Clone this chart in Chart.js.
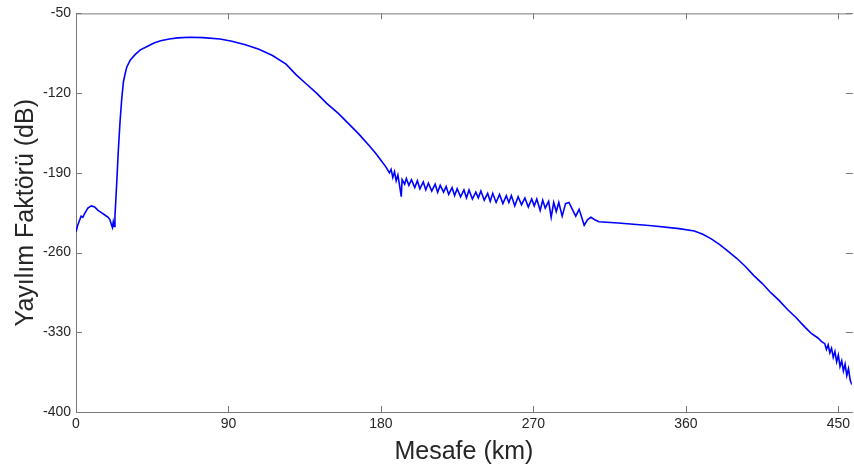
<!DOCTYPE html>
<html>
<head>
<meta charset="utf-8">
<script src="https://cdn.jsdelivr.net/npm/chart.js@4"></script>
<style>
  html, body { margin: 0; padding: 0; background: #fff; }
  #wrap { width: 854px; height: 470px; }
</style>
</head>
<body>
<div id="wrap"><canvas id="spreadChart" width="854" height="470"></canvas></div>
<script>
// distance (km) and spread factor (dB)
const distanceKm = [
  0, 1, 2, 3, 4, 5, 7, 9, 11, 13, 15, 17, 19, 20, 21, 21.5, 22, 22.5, 23, 24, 25, 26, 27, 28, 29, 30,
  32, 35, 38, 42, 46, 50, 55, 60, 67, 75, 85, 92, 100, 108, 116, 124, 130, 136, 142, 148, 155, 161,
  167, 173, 177, 180, 183, 185, 186, 187, 188, 189, 190, 191, 192, 192.5, 194, 195, 196.5, 198, 200,
  201.5, 203, 205, 206.5, 208, 210, 212, 213.5, 215, 217, 218.5, 220, 222, 223.5, 225, 227, 229,
  230.5, 232, 234, 236, 237.5, 239, 241, 243, 244.5, 246, 248, 250, 252, 254, 255.5, 257, 259, 261,
  263, 265, 267, 269, 270.5, 272, 274, 275.5, 277, 279, 280.5, 282, 283.5, 285, 287, 289, 291, 293,
  295, 297, 300, 302, 304, 306, 308.6, 320, 340, 356, 365, 370, 375, 380, 385, 390, 395, 400, 405,
  410, 415, 420, 425, 430, 434, 438, 440, 442, 443, 444, 445, 446, 447, 448, 449, 450, 451, 452,
  453, 454, 455, 456, 457, 458
];
const spreadDb = [
  -242, -236, -232, -228, -229, -226, -221, -219, -220, -223, -225, -227, -229, -231, -236, -238, -233, -237, -228, -200, -170, -145, -125, -110, -103, -97,
  -91, -86, -82, -79, -76, -74, -72.5, -71.5, -71, -71.3, -72.5, -74.5, -77.5, -81.5, -87, -94.6, -104, -112, -120, -129, -138, -147,
  -156, -166, -173, -179, -185, -190, -187, -194, -189, -197, -192, -201, -211, -196, -200, -195, -201, -196, -203,
  -197, -204, -198, -205, -199, -206, -200, -207, -201, -207, -202, -209, -203, -210, -204, -211, -205,
  -212, -205, -213, -207, -212, -206, -214, -208, -215, -208, -216, -209, -217, -210, -216, -210, -219, -211,
  -218, -212, -220, -213, -219, -213, -223, -214, -221, -215, -229, -216, -224, -216, -228, -217, -216, -222,
  -228, -222, -236, -231, -229, -231, -233, -234, -236.5, -239, -241, -244, -248, -253, -259, -265, -272, -280, -287,
  -295, -302, -310, -317, -325, -331, -335, -338, -340, -345, -341, -348, -344, -352, -347, -356, -350, -360, -355,
  -364, -358, -368, -362, -372, -376
];
const xTicks = [0, 90, 180, 270, 360, 450];
const yTicks = [-50, -120, -190, -260, -330, -400];

const axisGray = "#7a7a7a";
const textDark = "#262626";

// MATLAB-like box with inward ticks (right edge falls off the picture)
const boxPlugin = {
  id: "boxTicks",
  afterDraw(chart){
    const {ctx, chartArea, scales} = chart;
    const a = chartArea;
    ctx.save();
    ctx.strokeStyle = axisGray;
    ctx.lineWidth = 1;
    ctx.beginPath();
    ctx.moveTo(a.left, a.top + 0.5);
    ctx.lineTo(a.right, a.top + 0.5);
    xTicks.forEach(v => {
      const px = Math.round(scales.x.getPixelForValue(v)) + 0.5;
      ctx.moveTo(px, a.bottom); ctx.lineTo(px, a.bottom - 6);
      ctx.moveTo(px, a.top); ctx.lineTo(px, a.top + 6);
    });
    yTicks.forEach(v => {
      const py = Math.round(scales.y.getPixelForValue(v)) + 0.5;
      ctx.moveTo(a.left, py); ctx.lineTo(a.left + 6, py);
      ctx.moveTo(a.right + 1, py); ctx.lineTo(a.right - 6, py);
    });
    ctx.stroke();
    ctx.restore();
  }
};

const points = distanceKm.map((d, i) => ({x: d, y: spreadDb[i]}));

new Chart(document.getElementById("spreadChart").getContext("2d"), {
  type: "line",
  data: {
    datasets: [{
      data: points,
      borderColor: "#0000ff",
      borderWidth: 1.6,
      pointRadius: 0,
      tension: 0,
      fill: false
    }]
  },
  options: {
    responsive: false,
    animation: false,
    layout: {padding: {top: 12, right: 0, left: 0, bottom: 0}},
    plugins: {legend: {display: false}, tooltip: {enabled: false}},
    scales: {
      x: {
        type: "linear",
        min: 0,
        max: 458,
        afterBuildTicks(scale){ scale.ticks = xTicks.map(v => ({value: v})); },
        afterFit(scale){ scale.height = 58; },
        grid: {display: false, drawTicks: false},
        border: {display: true, color: axisGray, width: 1},
        ticks: {color: textDark, padding: 4, font: {family: "Liberation Sans, Arial", size: 14}},
        title: {display: true, text: "Mesafe (km)", color: textDark, padding: {top: 0, bottom: 3},
                font: {family: "Liberation Sans, Arial", size: 25}}
      },
      y: {
        min: -400,
        max: -50,
        afterBuildTicks(scale){ scale.ticks = yTicks.map(v => ({value: v})); },
        afterFit(scale){ scale.width = 76; },
        grid: {display: false, drawTicks: false},
        border: {display: true, color: axisGray, width: 1},
        ticks: {color: textDark, padding: 5, font: {family: "Liberation Sans, Arial", size: 14}},
        title: {display: true, text: "Yayılım Faktörü (dB)", color: textDark, padding: {top: 11, bottom: 0},
                font: {family: "Liberation Sans, Arial", size: 25}}
      }
    }
  },
  plugins: [boxPlugin]
});
</script>
</body>
</html>
